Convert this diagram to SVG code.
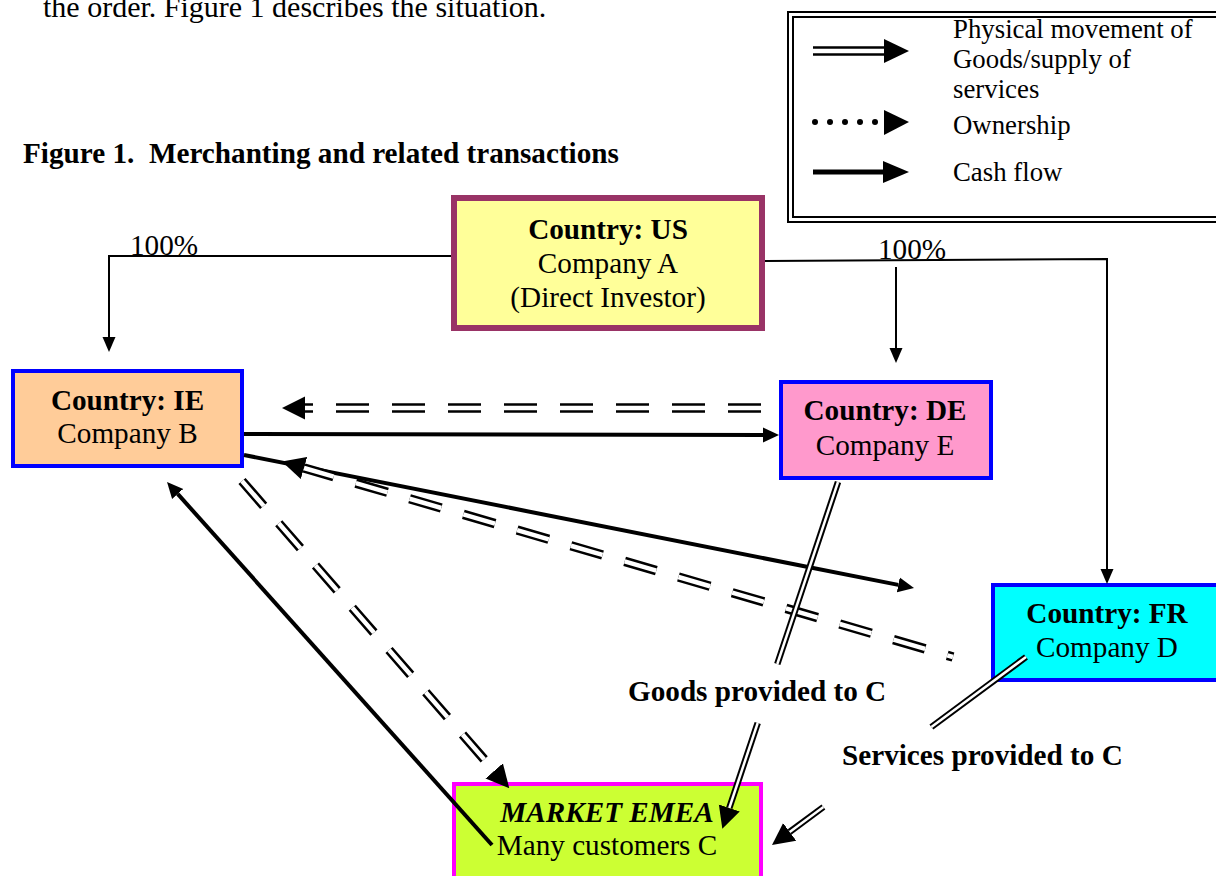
<svg xmlns="http://www.w3.org/2000/svg" width="1216" height="876" viewBox="0 0 1216 876">
  <style>
    text { font-family: "Liberation Serif", "Times New Roman", serif; fill: #000; }
    .t12 { font-size: 29.2px; }
    .t11 { font-size: 26.8px; }
    .b { font-weight: bold; }
    .mid { text-anchor: middle; }
    .own { fill: none; stroke: #000; stroke-width: 2; }
    .cash { fill: none; stroke: #000; stroke-width: 4; }
    .gdash-o { fill: none; stroke: #000; stroke-width: 9.5; stroke-dasharray: 33 23; }
    .gdash-i { fill: none; stroke: #fff; stroke-width: 4.5; stroke-dasharray: 33 23; }
    .gline-o { fill: none; stroke: #000; stroke-width: 6.5; }
    .gline-i { fill: none; stroke: #fff; stroke-width: 2.5; }
    .box { stroke-width: 4; }
  </style>
  <defs>
    <marker id="m-own" viewBox="0 -7 15 14" markerWidth="15" markerHeight="14" refX="0" refY="0" orient="auto" markerUnits="userSpaceOnUse">
      <path d="M0,-6.5 L15,0 L0,6.5 Z" fill="#000"/>
    </marker>
    <marker id="m-cash" viewBox="0 -8 16 16" markerWidth="16" markerHeight="16" refX="0" refY="0" orient="auto" markerUnits="userSpaceOnUse">
      <path d="M0,-7.5 L16,0 L0,7.5 Z" fill="#000"/>
    </marker>
    <marker id="m-goods" viewBox="0 -12 23 24" markerWidth="23" markerHeight="24" refX="0" refY="0" orient="auto" markerUnits="userSpaceOnUse">
      <path d="M0,-11.5 L23,0 L0,11.5 Z" fill="#000"/>
    </marker>
    <marker id="m-goods2" viewBox="0 -12 22 24" markerWidth="22" markerHeight="24" refX="0" refY="0" orient="auto" markerUnits="userSpaceOnUse">
      <path d="M0,-11 L22,0 L0,11 Z" fill="#000"/>
    </marker>
  </defs>

  <rect width="1216" height="876" fill="#fff"/>

  <!-- running text and caption -->
  <text x="43" y="17" style="font-size:30px">the order. Figure 1 describes the situation.</text>
  <text class="t12 b" x="23" y="163" style="white-space:pre">Figure 1.  Merchanting and related transactions</text>

  <!-- legend -->
  <g id="legend">
    <rect x="788" y="12" width="440" height="210" fill="#fff" stroke="#000" stroke-width="2"/>
    <rect x="793" y="17" width="430" height="200" fill="none" stroke="#000" stroke-width="2"/>
    <line x1="813" y1="51" x2="885" y2="51" stroke="#000" stroke-width="9.5"/>
    <line x1="813" y1="51" x2="886" y2="51" stroke="#fff" stroke-width="4.5"/>
    <polygon points="884,39 909,51 884,63" fill="#000"/>
    <g fill="#000">
      <circle cx="815" cy="122" r="3"/>
      <circle cx="830" cy="122" r="3"/>
      <circle cx="845" cy="122" r="3"/>
      <circle cx="860" cy="122" r="3"/>
      <circle cx="875" cy="122" r="3"/>
    </g>
    <polygon points="884,110 909,122 884,135" fill="#000"/>
    <line x1="813" y1="172" x2="885" y2="172" stroke="#000" stroke-width="5"/>
    <polygon points="883,161 909,172 883,183" fill="#000"/>
    <text class="t11" x="953" y="38">Physical movement of</text>
    <text class="t11" x="953" y="68">Goods/supply of</text>
    <text class="t11" x="953" y="98">services</text>
    <text class="t11" x="953" y="134">Ownership</text>
    <text class="t11" x="953" y="181">Cash flow</text>
  </g>

  <!-- companies -->
  <g id="node-us">
    <rect x="454" y="198" width="308" height="130" fill="#ffff99" stroke="#993366" stroke-width="6"/>
    <text class="t12 b mid" x="608" y="239">Country: US</text>
    <text class="t12 mid" x="608" y="273">Company A</text>
    <text class="t12 mid" x="608" y="307">(Direct Investor)</text>
  </g>
  <g id="node-ie">
    <rect class="box" x="13" y="371" width="229" height="95" fill="#ffcc99" stroke="#0000ff"/>
    <text class="t12 b mid" x="127.5" y="410">Country: IE</text>
    <text class="t12 mid" x="127.5" y="443">Company B</text>
  </g>
  <g id="node-de">
    <rect class="box" x="781" y="382" width="210" height="96" fill="#ff99cc" stroke="#0000ff"/>
    <text class="t12 b mid" x="885" y="420">Country: DE</text>
    <text class="t12 mid" x="885" y="455">Company E</text>
  </g>
  <g id="node-fr">
    <rect class="box" x="993" y="585" width="230" height="95" fill="#00ffff" stroke="#0000ff"/>
    <text class="t12 b mid" x="1107" y="623">Country: FR</text>
    <text class="t12 mid" x="1107" y="657">Company D</text>
  </g>
  <g id="node-market">
    <rect class="box" x="454" y="784" width="307" height="120" fill="#ccff33" stroke="#ff00ff"/>
    <text class="t12 b mid" x="607" y="822" font-style="italic">MARKET EMEA</text>
    <text class="t12 mid" x="607" y="855">Many customers C</text>
  </g>

  <!-- connectors -->
  <g id="connectors">
    <!-- ownership -->
    <path class="own" d="M451,256 H109 V337" marker-end="url(#m-own)"/>
    <path class="own" d="M765,261 L1107,259 V569" marker-end="url(#m-own)"/>
    <path class="own" d="M896,267 V348" marker-end="url(#m-own)"/>
    <text class="t12" x="130" y="255">100%</text>
    <text class="t12" x="878" y="259">100%</text>

    <!-- cash flows -->
    <path class="cash" d="M244,434 L763,435" marker-end="url(#m-cash)"/>
    <path class="cash" d="M244,455 L898.3,584.9" marker-end="url(#m-cash)"/>
    <path class="cash" d="M492,845 L177.7,493.9" marker-end="url(#m-cash)"/>

    <!-- goods, merchanted (dashed double) -->
    <path class="gdash-o" d="M761,408 L305,408" stroke-dasharray="32 24" marker-end="url(#m-goods)"/>
    <path class="gdash-i" d="M761,408 L305,408" stroke-dasharray="32 24"/>
    <path class="gdash-o" d="M953,657 L304,468" stroke-dashoffset="27" marker-end="url(#m-goods)"/>
    <path class="gdash-i" d="M953,657 L304,468" stroke-dashoffset="27"/>
    <path class="gdash-o" d="M242,481 L494.2,770.9" marker-end="url(#m-goods)"/>
    <path class="gdash-i" d="M242,481 L494.2,770.9"/>

    <!-- goods and services provided to customers (double line) -->
    <path class="gline-o" d="M838,482 L777.3,664"/>
    <path class="gline-i" d="M838,482 L777.3,664"/>
    <path class="gline-o" d="M757.7,723 L729.3,808" marker-end="url(#m-goods2)"/>
    <path class="gline-i" d="M757.7,723 L729.3,808"/>
    <path class="gline-o" d="M1026,657 L931.4,727"/>
    <path class="gline-i" d="M1026,657 L931.4,727"/>
    <path class="gline-o" d="M823.4,807 L789.7,831.9" marker-end="url(#m-goods2)"/>
    <path class="gline-i" d="M823.4,807 L789.7,831.9"/>

    <text class="t12 b" x="628" y="701">Goods provided to C</text>
    <text class="t12 b" x="842" y="765">Services provided to C</text>
  </g>
</svg>
